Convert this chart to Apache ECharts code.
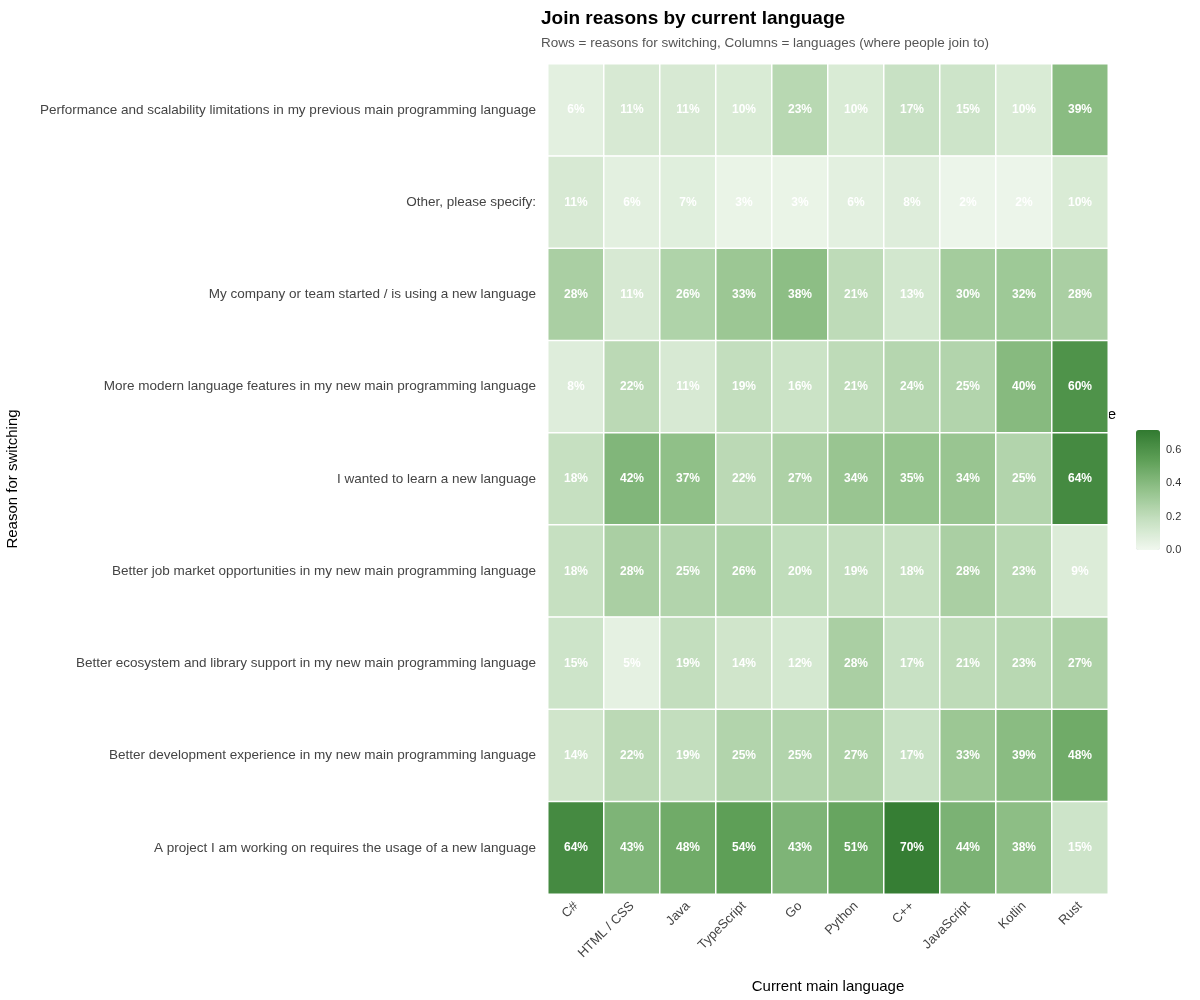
<!DOCTYPE html>
<html><head><meta charset="utf-8">
<script src="https://cdn.jsdelivr.net/npm/echarts@6/dist/echarts.min.js"></script>
<style>html,body{margin:0;padding:0;background:#fff}#c{width:1200px;height:1000px}</style>
</head><body><div id="c"></div>
<script>
const languages = ['C#','HTML / CSS','Java','TypeScript','Go','Python','C++','JavaScript','Kotlin','Rust'];
const reasons = [
 'Performance and scalability limitations in my previous main programming language',
 'Other, please specify:',
 'My company or team started / is using a new language',
 'More modern language features in my new main programming language',
 'I wanted to learn a new language',
 'Better job market opportunities in my new main programming language',
 'Better ecosystem and library support in my new main programming language',
 'Better development experience in my new main programming language',
 'A project I am working on requires the usage of a new language'
];
const sharePerformance = [6,11,11,10,23,10,17,15,10,39];
const shareOther = [11,6,7,3,3,6,8,2,2,10];
const shareCompany = [28,11,26,33,38,21,13,30,32,28];
const shareModern = [8,22,11,19,16,21,24,25,40,60];
const shareLearn = [18,42,37,22,27,34,35,34,25,64];
const shareJob = [18,28,25,26,20,19,18,28,23,9];
const shareEcosystem = [15,5,19,14,12,28,17,21,23,27];
const shareDevExp = [14,22,19,25,25,27,17,33,39,48];
const shareProject = [64,43,48,54,43,51,70,44,38,15];
const legendTicks = [0,0.2,0.4,0.6];

const rows = [sharePerformance,shareOther,shareCompany,shareModern,shareLearn,shareJob,shareEcosystem,shareDevExp,shareProject];
const data = [];
rows.forEach((r,ri)=>r.forEach((v,ci)=>data.push([ci,ri,v/100])));

const chart = echarts.init(document.getElementById('c'));
chart.setOption({
  backgroundColor:'#fff',
  textStyle:{fontFamily:'Liberation Sans, Arial, sans-serif'},
  title:{text:'Join reasons by current language',subtext:'Rows = reasons for switching, Columns = languages (where people join to)',
    left:536,top:4,itemGap:8,
    textStyle:{fontSize:19,fontWeight:'bold',color:'#000'},subtextStyle:{fontSize:13.5,color:'#555'}},
  grid:[{left:548,top:64,width:560,height:830},
        {left:1136,top:430,width:24,height:120}],
  xAxis:[{type:'category',data:languages,gridIndex:0,axisLine:{show:false},axisTick:{show:false},
     axisLabel:{rotate:45,fontSize:13,color:'#444',margin:10},
     name:'Current main language',nameLocation:'middle',nameGap:85,nameTextStyle:{fontSize:15,color:'#000'}},
    {type:'value',gridIndex:1,show:false}],
  yAxis:[{type:'category',data:reasons,inverse:true,gridIndex:0,axisLine:{show:false},axisTick:{show:false},
     axisLabel:{fontSize:13.5,color:'#444',margin:12},
     name:'Reason for switching',nameLocation:'middle',nameGap:528,nameRotate:90,nameTextStyle:{fontSize:15,color:'#000'}},
    {type:'value',gridIndex:1,position:'right',min:0,max:0.72,interval:0.2,
     axisLine:{show:false},axisTick:{show:true,length:4,inside:true,lineStyle:{color:'#fff'}},splitLine:{show:false},
     axisLabel:{fontSize:11,color:'#333',margin:6,formatter:v=>legendTicks.includes(Math.round(v*10)/10)?v.toFixed(1):''},
     name:'Share',nameLocation:'end',nameGap:8,nameTextStyle:{fontSize:15,color:'#000',align:'left',padding:[0,0,0,-60]}}],
  visualMap:{type:'continuous',min:0,max:0.72,calculable:false,show:true,left:1136,top:430,itemWidth:24,itemHeight:120,
    padding:0,text:['',''],showLabel:false,seriesIndex:0,
    inRange:{color:['#f1f8ef','#c6e0c1','#93c28b','#5e9f57','#317a30']}},
  series:[{type:'heatmap',data:data,xAxisIndex:0,yAxisIndex:0,
    itemStyle:{borderColor:'#fff',borderWidth:1.5},
    label:{show:true,color:'#fff',fontWeight:'bold',fontSize:12,formatter:p=>Math.round(p.value[2]*100)+'%'}}]
});
</script></body></html>
